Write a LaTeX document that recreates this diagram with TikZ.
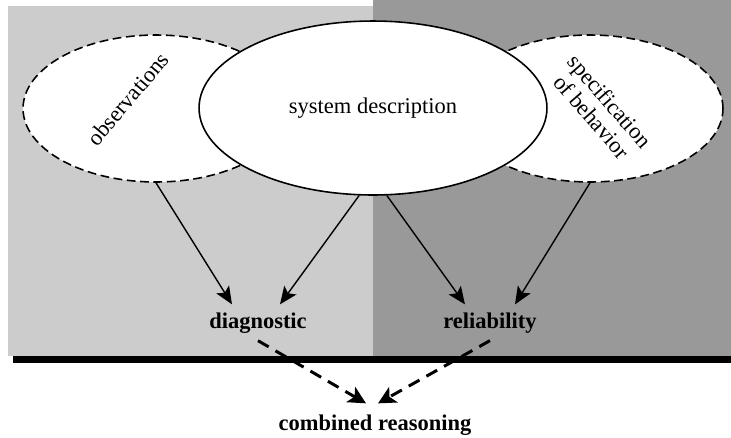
\documentclass[tikz,border=0pt]{standalone}
\usepackage{fontspec}
\setmainfont{Liberation Serif}
\usetikzlibrary{arrows.meta, positioning, shapes.geometric, calc}

\begin{document}
\begin{tikzpicture}[
  x=0.02cm, y=-0.02cm,
  src/.style={ellipse, draw, fill=white, line width=0.9pt, dash pattern=on 5pt off 2.6pt,
    minimum width=5.32cm, minimum height=2.94cm},
  core/.style={ellipse, draw, fill=white, line width=0.9pt,
    minimum width=6.96cm, minimum height=3.48cm, font=\fontsize{12.8}{15}\selectfont},
  lbl/.style={font=\fontsize{12.8}{13.6}\selectfont, align=center},
  task/.style={font=\fontsize{12.8}{15}\selectfont\bfseries, inner ysep=4pt},
  feed/.style={-{Stealth[length=10pt, width=8.5pt, inset=2.2pt]}, line width=0.8pt},
  merge/.style={-{Stealth[length=10pt, width=10pt, inset=2.5pt]}, line width=1.7pt, dash pattern=on 7pt off 4.5pt}
]

\useasboundingbox (0,0) rectangle (731,437);

% Background panels
\fill[black!20] (8,6) rectangle (373,356);
\fill[black!40] (373,0) rectangle (731,356);
\fill[black] (13,356) rectangle (731,363);

% Knowledge sources
\node[src] (obs) at (156,108.5) {};
\node[src] (spec) at (590,108.5) {};
\node[core] (sys) at (373,108) {system description};
\node[lbl, rotate=50] (obstext) at (128,99) {observations};
\node[lbl, rotate=-49] (spectext) at (601,109) {specification\\of behavior};

% Reasoning tasks
\node[task] (diag) at (258,323) {diagnostic};
\node[task] (rel) at (490,323) {reliability};
\node[task] (comb) at (375,425) {combined reasoning};

% Inputs
\draw[feed] (obs.south) -- ($(diag.north)+(-26,-1)$);
\draw[feed] (sys.-99) -- ($(diag.north)+(22,-1)$);
\draw[feed] (sys.-81) -- ($(rel.north)+(-25,-1)$);
\draw[feed] (spec.south) -- ($(rel.north)+(25,-1)$);

% Combination
\draw[merge] (diag.south) -- ($(comb.north)+(-9,-4)$);
\draw[merge] (rel.south) -- ($(comb.north)+(3,-4)$);

\end{tikzpicture}
\end{document}
